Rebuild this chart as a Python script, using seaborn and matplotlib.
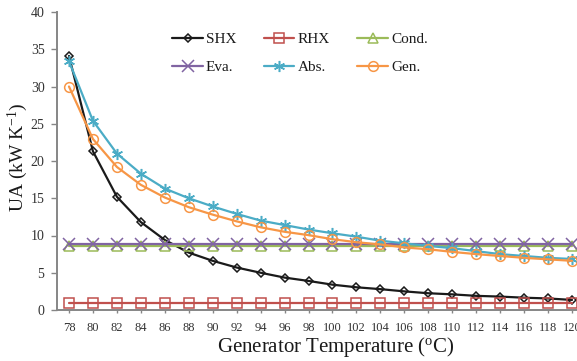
import matplotlib
matplotlib.use("Agg")
import matplotlib.pyplot as plt
import seaborn as sns
import pandas as pd

temps = [78, 80, 82, 84, 86, 88, 90, 92, 94, 96, 98, 100, 102, 104, 106, 108, 110, 112, 114, 116, 118, 120]
shx = [34.1, 21.3, 15.2, 11.8, 9.4, 7.7, 6.6, 5.7, 5.0, 4.35, 3.9, 3.4, 3.05, 2.8, 2.5, 2.25, 2.1, 1.9, 1.8, 1.65, 1.55, 1.35]
rhx = [1.0] * 22
cond = [8.65] * 22
eva = [8.85] * 22
absb = [33.4, 25.4, 21.0, 18.3, 16.3, 15.0, 13.9, 12.9, 12.0, 11.4, 10.8, 10.3, 9.84, 9.3, 8.95, 8.6, 8.3, 7.9, 7.5, 7.25, 7.0, 6.85]
gen = [30.0, 22.95, 19.2, 16.8, 15.1, 13.8, 12.8, 11.9, 11.1, 10.5, 10.05, 9.5, 9.1, 8.8, 8.4, 8.15, 7.8, 7.5, 7.25, 7.0, 6.8, 6.6]

series_names = ["SHX", "RHX", "Cond.", "Eva.", "Abs.", "Gen."]
series_vals = [shx, rhx, cond, eva, absb, gen]
colors = ["#1a1a1a", "#C0504D", "#9BBB59", "#8064A2", "#4BACC6", "#F79646"]
markers = ["D", "s", "^", "x", (6, 2, 0), "o"]
msizes = [4.5, 6.5, 6.5, 8, 8, 7]

sns.set_theme(style="white")
plt.rcParams["font.family"] = ["Liberation Serif", "DejaVu Serif"]
plt.rcParams["mathtext.fontset"] = "stix"

fig = plt.figure(figsize=(5.77, 3.61), dpi=100)
ax = fig.add_axes([57 / 577, (361 - 310) / 361, (584 - 57) / 577, 298 / 361])

handles = {}
for name, vals, c, m, ms in zip(series_names, series_vals, colors, markers, msizes):
    df = pd.DataFrame({"T": temps, "UA": vals})
    filled = m in ("x", (6, 2, 0))
    sns.lineplot(data=df, x="T", y="UA", ax=ax, color=c, linewidth=1.6,
                 marker=m, markersize=ms,
                 markerfacecolor=c if filled else "none",
                 markeredgecolor=c, markeredgewidth=1.1, label=name)
    handles[name] = ax.lines[-1]

ax.set_xlim(77, 121)
ax.set_ylim(0, 40)
ax.set_xticks(temps)
ax.set_xticklabels([str(t) for t in temps], fontsize=9, color="#333333")
ax.set_yticks(range(0, 41, 5))
ax.set_yticklabels([str(v) for v in range(0, 41, 5)], fontsize=10, color="#333333")
ax.tick_params(axis="y", direction="out", length=4, width=1, color="#868686", pad=5, left=True)
ax.tick_params(axis="x", direction="out", length=2.5, width=1, color="#868686", pad=6, bottom=True)

for s in ["top", "right"]:
    ax.spines[s].set_visible(False)
for s in ["left", "bottom"]:
    ax.spines[s].set_color("#868686")
    ax.spines[s].set_linewidth(1.4)

ax.set_xlabel("Generator Temperature ($\\mathregular{^{o}}$C)", fontsize=15, color="#1a1a1a")
ax.set_ylabel("UA (kW K$\\mathregular{^{-1}}$)", fontsize=14, color="#1a1a1a")
ax.xaxis.set_label_coords((336 - 57) / 527, -(347 - 310) / 298)
ax.xaxis.label.set_va("center")
ax.yaxis.set_label_coords((18 - 57) / 527, (310 - 157) / 298)
ax.yaxis.label.set_va("center")

order = ["SHX", "Eva.", "RHX", "Abs.", "Cond.", "Gen."]
leg = ax.legend([handles[n] for n in order], order, ncol=3, frameon=False,
                fontsize=11, handlelength=2.0, handletextpad=0.2,
                columnspacing=1.8, labelspacing=0.95,
                loc="center", bbox_to_anchor=((300 - 57) / 527, (310 - 53.5) / 298),
                bbox_transform=ax.transAxes)
for t in leg.get_texts():
    t.set_color("#1a1a1a")

fig.savefig("out.png", dpi=100)
